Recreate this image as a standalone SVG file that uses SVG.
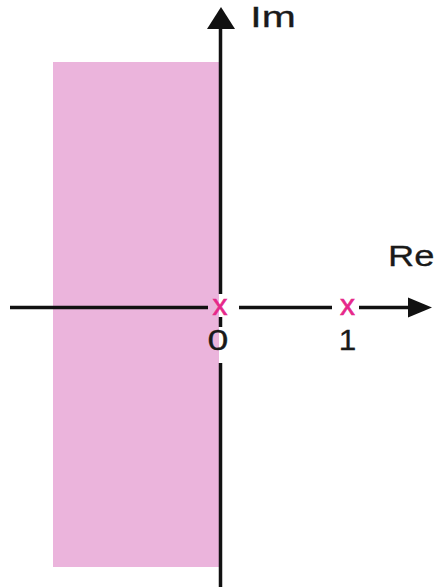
<svg xmlns="http://www.w3.org/2000/svg" width="436" height="587" viewBox="0 0 436 587">
<style>
.ax{stroke:#111;stroke-width:3.5;fill:none}
.lbl{font-family:"Liberation Sans",Arial,sans-serif;fill:#1a1a1a;stroke:#1a1a1a;stroke-width:0.3}
.pole{font-family:"Liberation Sans",Arial,sans-serif;fill:#e6288a;stroke:#e6288a;stroke-width:0.6;font-size:30px;text-anchor:middle}
</style>
<rect id="region" x="53" y="62" width="166" height="505" fill="#ebb4dc"/>
<g id="axes">
<path class="ax" d="M10 307.5H208M239 307.5H332M359 307.5H410"/>
<path class="ax" d="M220.5 28V294M220.5 317V327M220.5 363V587"/>
<polygon points="432,307.5 408,297.5 408,317.5" fill="#111"/>
<polygon points="221,7 207,29 235,29" fill="#111"/>
</g>
<g id="labels">
<text class="lbl" font-size="29" transform="translate(250.3,26.5) scale(1.41,1)">Im</text>
<text class="lbl" font-size="30" transform="translate(388,266) scale(1.21,1)">Re</text>
<text class="lbl" font-size="30" text-anchor="middle" transform="translate(218,350) scale(1.25,1)">0</text>
<text class="lbl" font-size="30" text-anchor="middle" transform="translate(347.5,350) scale(1.05,1)">1</text>
</g>
<g id="poles">
<text class="pole" x="220" y="314.5">x</text>
<text class="pole" x="347.5" y="315">x</text>
</g>
</svg>
